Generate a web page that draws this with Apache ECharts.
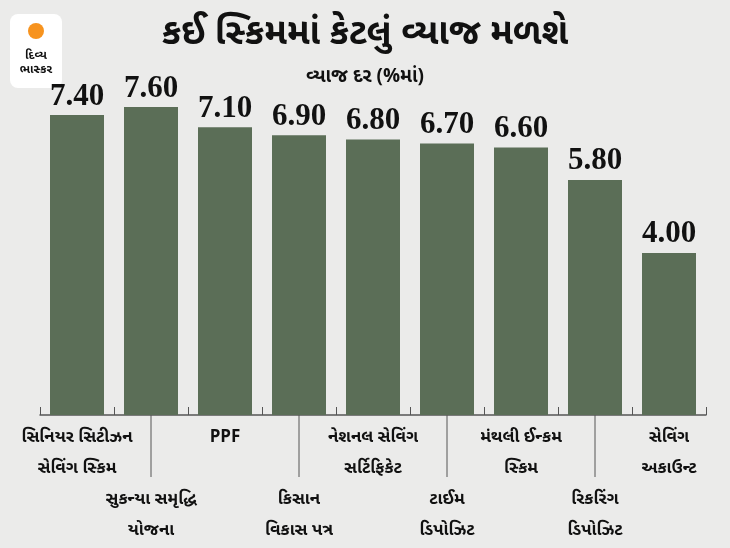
<!DOCTYPE html>
<html><head><meta charset="utf-8">
<script src="https://cdn.jsdelivr.net/npm/echarts@6/dist/echarts.min.js"></script>
<style>html,body{margin:0;padding:0;background:#ebebea}#c{width:730px;height:548px}</style>
</head><body><div id="c"></div>
<script>
const categories = ["સિનિયર સિટીઝન\nસેવિંગ સ્કિમ","સુકન્યા સમૃદ્ધિ\nયોજના","PPF","કિસાન\nવિકાસ પત્ર","નેશનલ સેવિંગ\nસર્ટિફિકેટ","ટાઈમ\nડિપોઝિટ","મંથલી ઈન્કમ\nસ્કિમ","રિકરિંગ\nડિપોઝિટ","સેવિંગ\nઅકાઉન્ટ"];
const rates = [7.40, 7.60, 7.10, 6.90, 6.80, 6.70, 6.60, 5.80, 4.00];
const title = "કઈ સ્કિમમાં કેટલું વ્યાજ મળશે";
const subtitle = "વ્યાજ દર (%માં)";

const chart = echarts.init(document.getElementById('c'));
const font = "'Noto Sans Gujarati','Noto Sans','DejaVu Sans',sans-serif";
chart.setOption({
  backgroundColor:'#ebebea',
  animation:false,
  title:[
    {text:title,left:'center',top:14,textStyle:{fontFamily:font,fontSize:36,fontWeight:'bold',color:'#111'}},
    {text:subtitle,left:'center',top:64,textStyle:{fontFamily:font,fontSize:19,fontWeight:'bold',color:'#111'}}
  ],
  grid:{left:40,right:24,top:107,bottom:133},
  xAxis:{type:'category',data:categories,
    axisLine:{lineStyle:{color:'#555',width:1.5}},
    axisTick:{show:true,length:-8,lineStyle:{color:'#555'}},
    axisLabel:{interval:0,margin:8,color:'#111',fontFamily:font,fontSize:17,fontWeight:'bold',lineHeight:31,
      formatter:(v,i)=> i%2===1 ? '\n\n'+v : v }},
  yAxis:{type:'value',min:0,max:7.6,show:false,splitLine:{show:false}},
  series:[{type:'bar',data:rates,barWidth:54,itemStyle:{color:'#5b6e57'},
    label:{show:true,position:'top',distance:3,formatter:p=>p.value.toFixed(2),
      fontFamily:"'Liberation Serif','DejaVu Serif',serif",fontSize:31,fontWeight:'bold',color:'#111'}}]
});
const g=[];
rates.forEach((r,i)=>{ if(i%2===1){ const p=chart.convertToPixel({xAxisIndex:0,yAxisIndex:0},[i,0]);
  g.push({type:'line',shape:{x1:p[0],y1:p[1],x2:p[0],y2:p[1]+62},style:{stroke:'#555',lineWidth:1}}); }});
g.push({type:'rect',shape:{x:10,y:14,width:52,height:74,r:8},style:{fill:'#fff'}});
g.push({type:'circle',shape:{cx:36,cy:31,r:8},style:{fill:'#f7931e'}});
g.push({type:'text',style:{x:36,y:50,text:'દિવ્ય\nભાસ્કર',align:'center',fill:'#111',font:"bold 12px "+font,lineHeight:14}});
chart.setOption({graphic:g});
</script></body></html>
